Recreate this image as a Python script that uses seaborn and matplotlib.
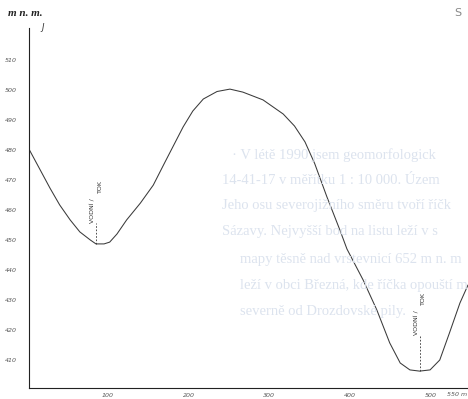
import matplotlib
matplotlib.use("Agg")
import matplotlib.pyplot as plt
import matplotlib.transforms as mtransforms
import pandas as pd
import seaborn as sns

# profile: distance along the section (m) and elevation (m n. m.)
distance = [2, 16, 28, 40, 53, 65, 78, 85, 95, 102, 111, 123, 140, 156, 170,
            193, 205, 218, 235, 251, 267, 292, 317, 331, 344, 356, 371, 387,
            396, 416, 433, 449, 462, 474, 486, 499, 511, 523, 536, 546]
elevation = [480.3, 473.3, 467.3, 461.7, 456.7, 452.7, 450.0, 448.7, 448.7,
             449.3, 452.0, 456.7, 462.3, 468.3, 475.7, 487.7, 493.0, 497.0,
             499.5, 500.3, 499.3, 496.7, 492.0, 488.0, 482.7, 475.5, 464.5,
             453.5, 447.0, 436.7, 426.7, 415.7, 409.0, 406.7, 406.3, 406.7,
             410.0, 419.0, 429.0, 435.0]

y_ticks = [410, 420, 430, 440, 450, 460, 470, 480, 490, 500, 510]
x_ticks = [100, 200, 300, 400, 500]

# streams crossing the profile
stream_x = [85, 486]
stream_bottom = [448.7, 406.3]
stream_top = [455.7, 418.3]

# text showing through from the reverse page
ghost_lines = [
    "· V létě 1990 jsem geomorfologick",
    "14-41-17 v měřítku 1 : 10 000. Územ",
    "Jeho osu severojižního směru tvoří říčk",
    "Sázavy. Nejvyšší bod na listu leží v s",
    "mapy těsně nad vrstevnicí 652 m n. m",
    "leží v obci Březná, kde říčka opouští m",
    "severně od Drozdovské pily.",
]
ghost_x = [232, 222, 222, 222, 240, 240, 240]
ghost_y = [155, 181, 206, 232, 259, 285, 311]

df = pd.DataFrame({"distance": distance, "elevation": elevation})

sns.set_style("white")
plt.rcParams["font.family"] = ["DejaVu Sans"]

W, H = 468, 399
fig = plt.figure(figsize=(W / 100, H / 100), dpi=100)
fig.patch.set_facecolor("white")

for txt, gx, gy in zip(ghost_lines, ghost_x, ghost_y):
    fig.text(gx / W, 1 - gy / H, txt, fontsize=10.5, family="Liberation Serif",
             color="#dce3ee", va="center", ha="left", zorder=0)

ax = fig.add_axes([29 / W, 11 / H, 439 / W, 360 / H])
ax.patch.set_alpha(0)
sns.lineplot(data=df, x="distance", y="elevation", ax=ax, color="#3a3a3a",
             linewidth=0.75, sort=False)

ax.set_xlim(2, 546)
ax.set_ylim(400.67, 520.67)
for side in ["top", "right"]:
    ax.spines[side].set_visible(False)
for side in ["left", "bottom"]:
    ax.spines[side].set_color("#222222")
    ax.spines[side].set_linewidth(0.8)

ax.set_yticks(y_ticks)
ax.set_yticklabels([str(v) for v in y_ticks], fontsize=4.5, style="italic",
                   color="#555555")
ax.set_xticks(x_ticks)
ax.set_xticklabels([str(v) for v in x_ticks], fontsize=4.5, style="italic",
                   color="#555555")
ax.tick_params(axis="y", direction="inout", length=3, width=0.6, pad=7,
               colors="#333333", labelcolor="#555555")
ax.tick_params(axis="x", direction="inout", length=3, width=0.6, pad=2,
               colors="#333333", labelcolor="#555555")
ax.set_xlabel("")
ax.set_ylabel("")

trans = mtransforms.blended_transform_factory(ax.transData, ax.transAxes)
ax.text(532, -0.012, "550 m", transform=trans, fontsize=4.5, style="italic",
        color="#555555", ha="center", va="top")

for sx, sb, st in zip(stream_x, stream_bottom, stream_top):
    ax.plot([sx, sx], [sb, st], color="#333333", linewidth=0.6,
            linestyle=(0, (2, 2)))
    ax.text(sx - 5, st, "VODNÍ /", rotation=90, fontsize=4.5, ha="center",
            va="bottom", color="#333333")
    ax.text(sx + 5, st + 10, "TOK", rotation=90, fontsize=4.5, ha="center",
            va="bottom", color="#333333")

fig.text(8 / W, 1 - 14 / H, "m n. m.", fontsize=8, family="Liberation Serif",
         weight="bold", style="italic", color="#222222", va="center", ha="left")
fig.text(43 / W, 1 - 28 / H, "J", fontsize=6, style="italic", color="#333333",
         va="center", ha="center")
fig.text(458 / W, 1 - 13 / H, "S", fontsize=8, color="#888888",
         va="center", ha="center")

fig.savefig("out.png", dpi=100, facecolor="white")
